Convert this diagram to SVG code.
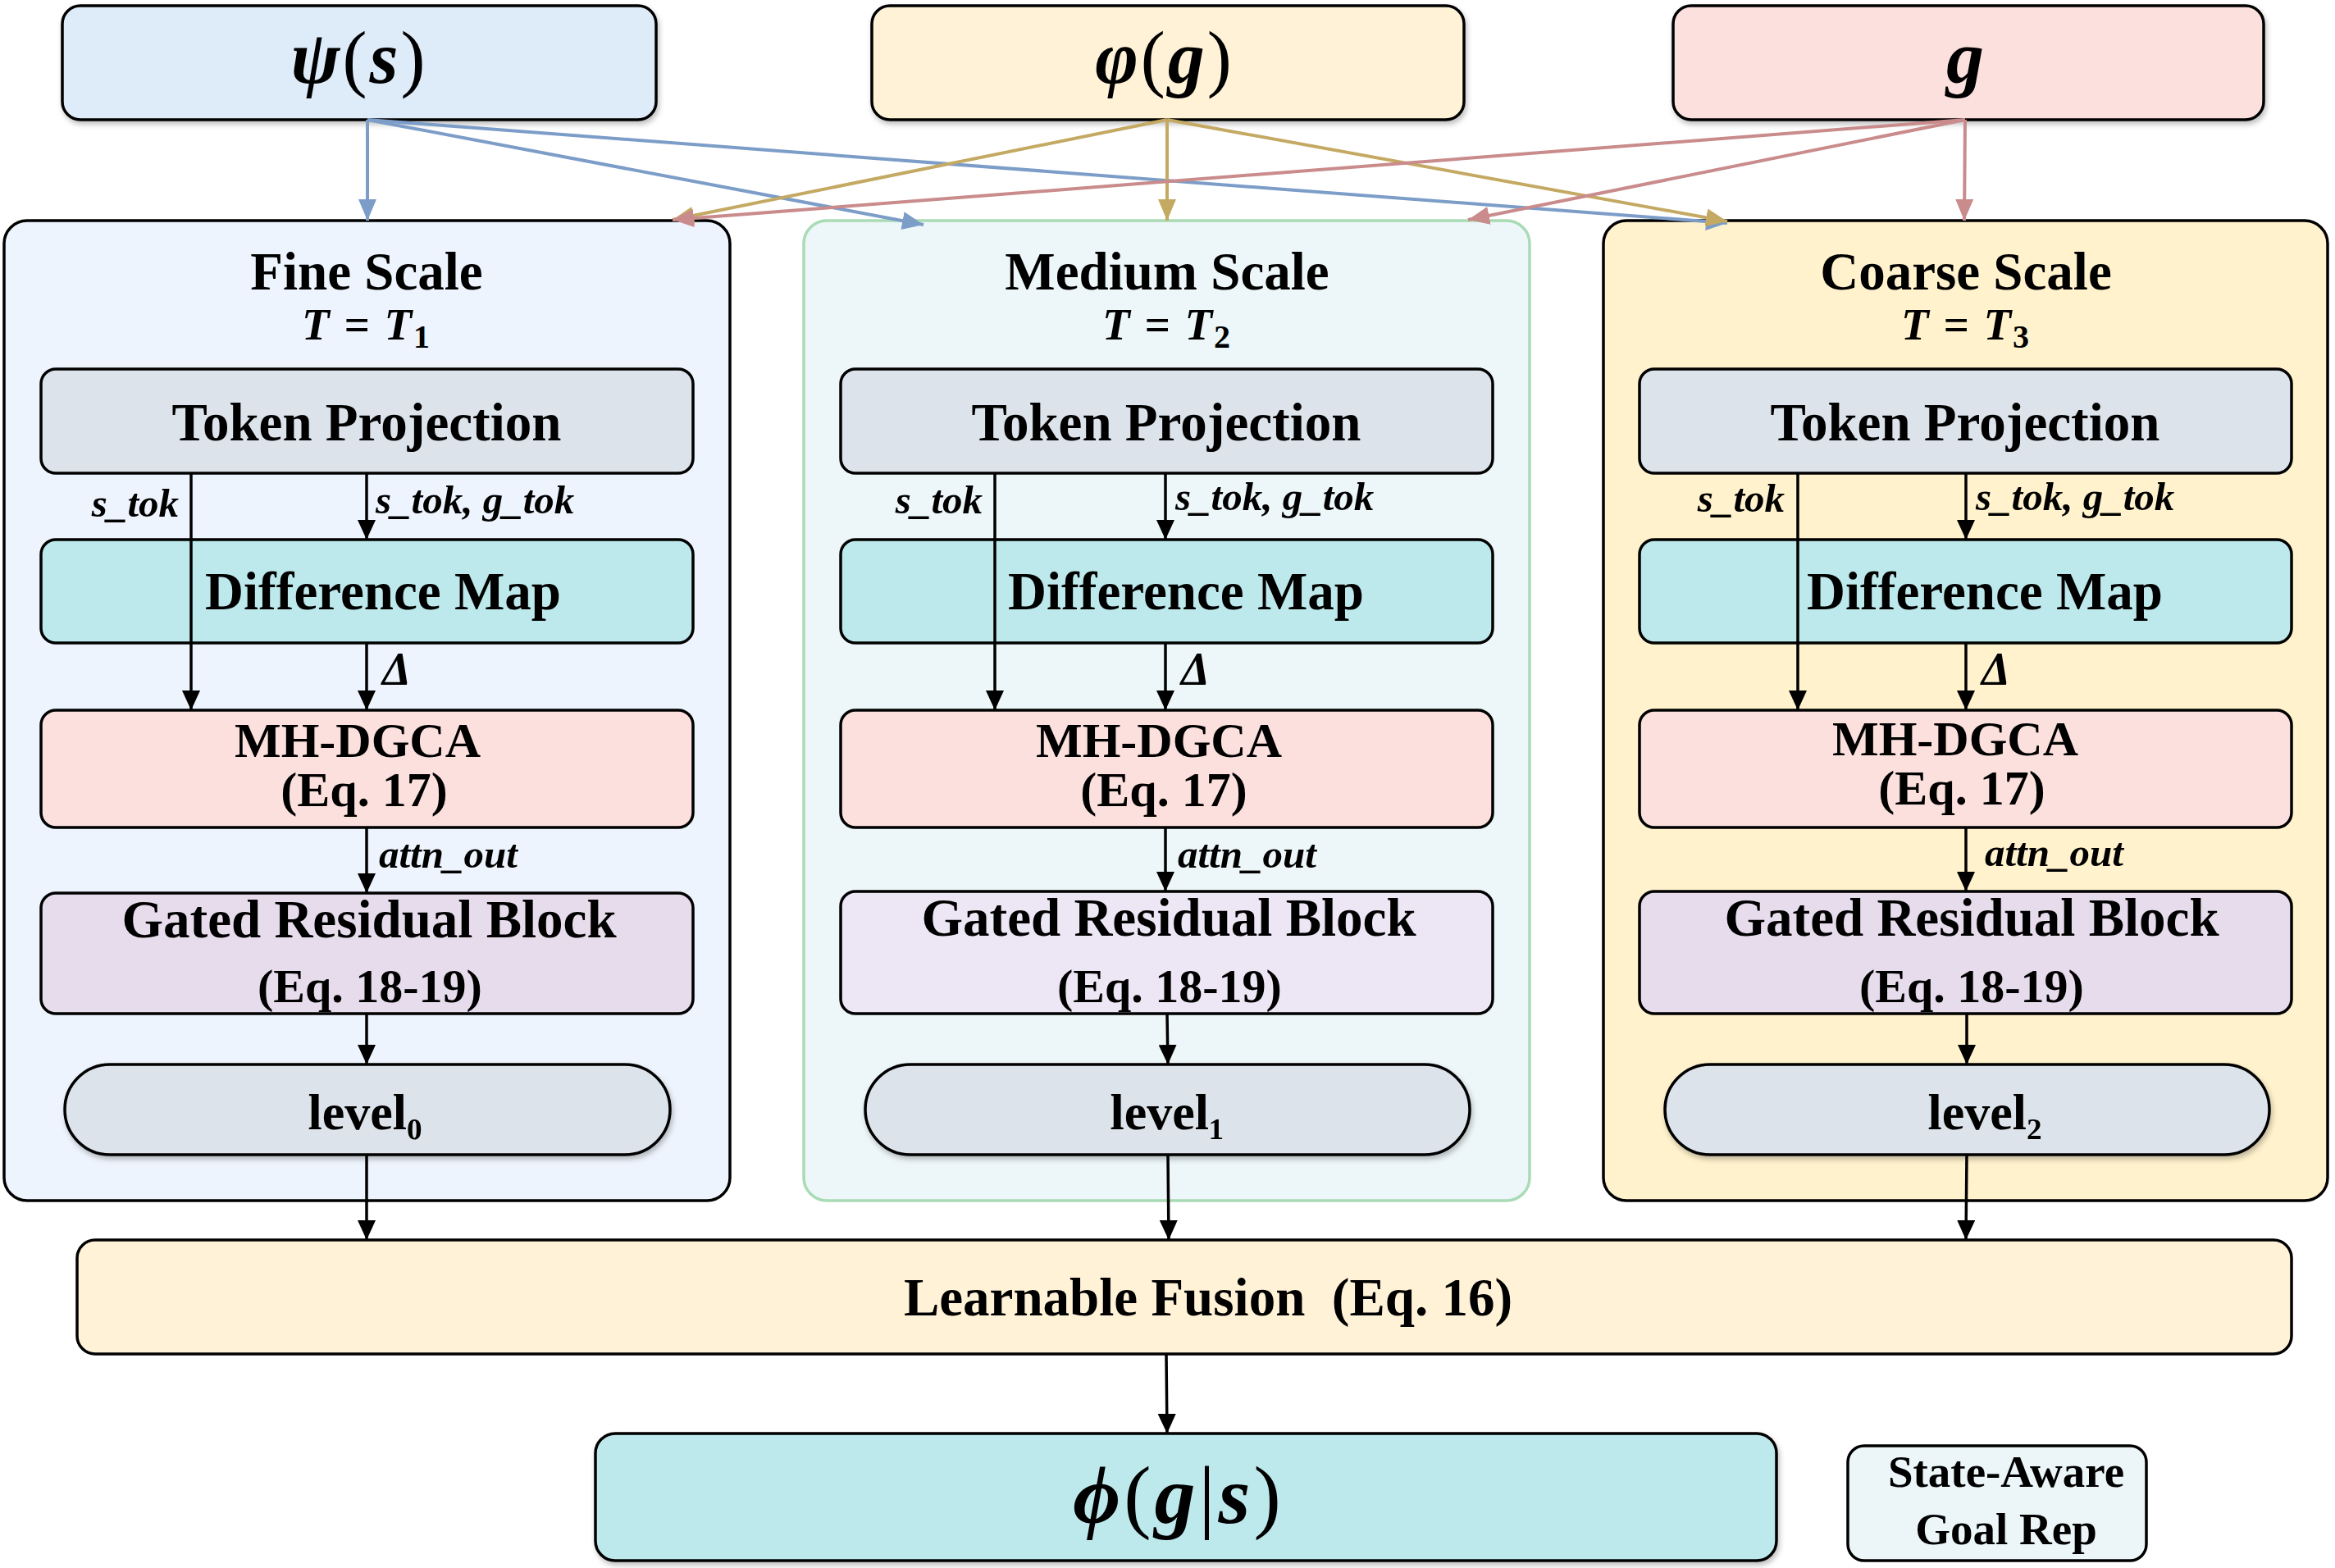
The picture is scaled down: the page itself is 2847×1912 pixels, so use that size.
<svg xmlns="http://www.w3.org/2000/svg" width="2847" height="1912" viewBox="0 0 2847 1912">
<style>
.t{font-family:"Liberation Serif","Times New Roman",serif;font-weight:bold;fill:#000;text-anchor:middle}
.i{font-style:italic}
.s{font-family:"Liberation Serif","Times New Roman",serif;font-weight:bold;font-style:italic;fill:#000}
.box{stroke:#000;stroke-width:3.5}
.blk{stroke:#000;stroke-width:3.5;fill:none;marker-end:url(#ak)}
.bl{stroke:#7c9dc8;stroke-width:4;fill:none;marker-end:url(#ab)}
.go{stroke:#c4a963;stroke-width:4;fill:none;marker-end:url(#ag)}
.pk{stroke:#c98b8b;stroke-width:4;fill:none;marker-end:url(#ap)}
.tp{fill:#dce3ea}.dm{fill:#bde9ec}.mh{fill:#fbe0dd}.gr{fill:#e7dcec}.lv{fill:#dce3ea}
</style>
<defs>
<filter id="sh" x="-5%" y="-5%" width="110%" height="130%"><feDropShadow dx="2" dy="4" stdDeviation="3" flood-color="#000" flood-opacity="0.25"/></filter>
<marker id="ak" markerUnits="userSpaceOnUse" markerWidth="24" markerHeight="22" refX="24" refY="11" orient="auto"><path d="M0,0 L24,11 L0,22 z" fill="#000"/></marker>
<marker id="ab" markerUnits="userSpaceOnUse" markerWidth="26" markerHeight="22" refX="26" refY="11" orient="auto"><path d="M0,0 L26,11 L0,22 z" fill="#7c9dc8"/></marker>
<marker id="ag" markerUnits="userSpaceOnUse" markerWidth="26" markerHeight="22" refX="26" refY="11" orient="auto"><path d="M0,0 L26,11 L0,22 z" fill="#c4a963"/></marker>
<marker id="ap" markerUnits="userSpaceOnUse" markerWidth="26" markerHeight="22" refX="26" refY="11" orient="auto"><path d="M0,0 L26,11 L0,22 z" fill="#c98b8b"/></marker>
</defs>
<rect width="2847" height="1912" fill="#fff"/>

<!-- top inputs -->
<g id="psi_s">
<rect class="box" x="76" y="7" width="724" height="139" rx="22" fill="#deebf9" filter="url(#sh)"/>
<text class="t" x="438" y="101" font-size="90" letter-spacing="3"><tspan font-style="italic">ψ</tspan><tspan font-weight="normal">(</tspan><tspan font-style="italic">s</tspan><tspan font-weight="normal">)</tspan></text>
</g>
<g id="phi_g">
<rect class="box" x="1063" y="7" width="722" height="139" rx="22" fill="#fff2d7" filter="url(#sh)"/>
<text class="t" x="1420" y="101" font-size="90" letter-spacing="3"><tspan font-style="italic">φ</tspan><tspan font-weight="normal">(</tspan><tspan font-style="italic">g</tspan><tspan font-weight="normal">)</tspan></text>
</g>
<g id="g_in">
<rect class="box" x="2040" y="7" width="720" height="139" rx="22" fill="#fbe0dd" filter="url(#sh)"/>
<text class="t i" x="2396" y="101" font-size="92">g</text>
</g>

<!-- scale containers -->
<g id="fine_scale">
<rect x="5" y="269" width="885" height="1195" rx="28" fill="#eef4fd" stroke="#000" stroke-width="3.5"/>
<text class="t" x="447" y="353" font-size="65">Fine Scale</text>
<text class="t i" x="447" y="414" font-size="55" letter-spacing="2">T = T<tspan font-style="normal" font-size="40" dy="10">1</tspan></text>
</g>
<g id="medium_scale">
<rect x="980" y="269" width="885" height="1195" rx="28" fill="#edf6f8" stroke="#a9dbb5" stroke-width="3.5"/>
<text class="t" x="1423" y="353" font-size="65">Medium Scale</text>
<text class="t i" x="1423" y="414" font-size="55" letter-spacing="2">T = T<tspan font-style="normal" font-size="40" dy="10">2</tspan></text>
</g>
<g id="coarse_scale">
<rect x="1955" y="269" width="883" height="1195" rx="28" fill="#fff2cc" stroke="#000" stroke-width="3.5"/>
<text class="t" x="2397" y="353" font-size="65">Coarse Scale</text>
<text class="t i" x="2397" y="414" font-size="55" letter-spacing="2">T = T<tspan font-style="normal" font-size="40" dy="10">3</tspan></text>
</g>

<!-- fine inner -->
<g id="fine_token_projection"><rect class="box tp" x="50" y="450" width="795" height="127" rx="18"/><text class="t" x="447" y="537" font-size="65">Token Projection</text></g>
<g id="fine_difference_map"><rect class="box dm" x="50" y="658" width="795" height="126" rx="18"/><text class="t" x="467" y="743" font-size="65">Difference Map</text></g>
<g id="fine_mhdgca"><rect class="box mh" x="50" y="866" width="795" height="143" rx="18"/><text class="t" x="436" y="923" font-size="60">MH-DGCA</text><text class="t" x="444" y="983" font-size="60">(Eq. 17)</text></g>
<g id="fine_gated"><rect class="box gr" x="50" y="1089" width="795" height="147" rx="18"/><text class="t" x="450" y="1143" font-size="65">Gated Residual Block</text><text class="t" x="451" y="1222" font-size="58">(Eq. 18-19)</text></g>
<g id="fine_level"><rect class="box lv" x="79" y="1298" width="738" height="110" rx="55" filter="url(#sh)"/><text class="t" x="445" y="1377" font-size="62">level₀</text></g>

<!-- medium inner -->
<g id="medium_token_projection"><rect class="box tp" x="1025" y="450" width="795" height="127" rx="18"/><text class="t" x="1422" y="537" font-size="65">Token Projection</text></g>
<g id="medium_difference_map"><rect class="box dm" x="1025" y="658" width="795" height="126" rx="18"/><text class="t" x="1446" y="743" font-size="65">Difference Map</text></g>
<g id="medium_mhdgca"><rect class="box mh" x="1025" y="866" width="795" height="143" rx="18"/><text class="t" x="1413" y="923" font-size="60">MH-DGCA</text><text class="t" x="1419" y="983" font-size="60">(Eq. 17)</text></g>
<g id="medium_gated"><rect class="box" fill="#ede6f5" x="1025" y="1087" width="795" height="149" rx="18"/><text class="t" x="1425" y="1141" font-size="65">Gated Residual Block</text><text class="t" x="1426" y="1222" font-size="58">(Eq. 18-19)</text></g>
<g id="medium_level"><rect class="box lv" x="1055" y="1298" width="737" height="110" rx="55" filter="url(#sh)"/><text class="t" x="1423" y="1377" font-size="62">level₁</text></g>

<!-- coarse inner -->
<g id="coarse_token_projection"><rect class="box tp" x="1999" y="450" width="795" height="127" rx="18"/><text class="t" x="2396" y="537" font-size="65">Token Projection</text></g>
<g id="coarse_difference_map"><rect class="box dm" x="1999" y="658" width="795" height="126" rx="18"/><text class="t" x="2420" y="743" font-size="65">Difference Map</text></g>
<g id="coarse_mhdgca"><rect class="box mh" x="1999" y="866" width="795" height="143" rx="18"/><text class="t" x="2384" y="921" font-size="60">MH-DGCA</text><text class="t" x="2392" y="981" font-size="60">(Eq. 17)</text></g>
<g id="coarse_gated"><rect class="box gr" x="1999" y="1087" width="795" height="149" rx="18"/><text class="t" x="2404" y="1141" font-size="65">Gated Residual Block</text><text class="t" x="2404" y="1222" font-size="58">(Eq. 18-19)</text></g>
<g id="coarse_level"><rect class="box lv" x="2030" y="1298" width="737" height="110" rx="55" filter="url(#sh)"/><text class="t" x="2420" y="1377" font-size="62">level₂</text></g>

<!-- fusion and output -->
<g id="fusion"><rect class="box" x="94" y="1512" width="2700" height="139" rx="22" fill="#fff2d7"/><text class="t" x="1473" y="1604" font-size="65" xml:space="preserve">Learnable Fusion  (Eq. 16)</text></g>
<g id="phi_gs"><rect class="box" x="726" y="1748" width="1440" height="155" rx="24" fill="#bde9ec" filter="url(#sh)"/><text class="t" x="1437" y="1857" font-size="100" letter-spacing="4"><tspan font-style="italic">ϕ</tspan><tspan font-weight="normal">(</tspan><tspan font-style="italic">g</tspan><tspan font-weight="normal">|</tspan><tspan font-style="italic">s</tspan><tspan font-weight="normal">)</tspan></text></g>
<g id="legend"><rect class="box" x="2253" y="1763" width="364" height="140" rx="20" fill="#ecf6f8"/><text class="t" x="2446" y="1813" font-size="55">State-Aware</text><text class="t" x="2446" y="1883" font-size="55">Goal Rep</text></g>

<!-- connectors -->
<g id="connectors">
<path class="bl" d="M448,146 L448,269"/>
<path class="bl" d="M448,146 L1126,274"/>
<path class="bl" d="M448,146 L2106,272"/>
<path class="go" d="M1423,146 L820,268"/>
<path class="go" d="M1423,146 L1423,269"/>
<path class="go" d="M1423,146 L2106,270"/>
<path class="pk" d="M2396,146 L820,268"/>
<path class="pk" d="M2396,146 L1790,268"/>
<path class="pk" d="M2396,146 L2395,269"/>

<path class="blk" d="M233,577 L233,866"/>
<path class="blk" d="M447,577 L447,658"/>
<path class="blk" d="M447,784 L447,866"/>
<path class="blk" d="M447,1009 L447,1089"/>
<path class="blk" d="M447,1236 L447,1298"/>
<path class="blk" d="M447,1408 L447,1512"/>

<path class="blk" d="M1213,577 L1213,866"/>
<path class="blk" d="M1421,577 L1421,658"/>
<path class="blk" d="M1421,784 L1421,866"/>
<path class="blk" d="M1421,1009 L1421,1087"/>
<path class="blk" d="M1423,1236 L1424,1298"/>
<path class="blk" d="M1424,1408 L1425,1512"/>

<path class="blk" d="M2192,577 L2192,866"/>
<path class="blk" d="M2397,577 L2397,658"/>
<path class="blk" d="M2397,784 L2397,866"/>
<path class="blk" d="M2397,1009 L2397,1087"/>
<path class="blk" d="M2398,1236 L2398,1298"/>
<path class="blk" d="M2398,1408 L2397,1512"/>

<path class="blk" d="M1422,1651 L1423,1748"/>

<text class="s" x="218" y="630" font-size="49" text-anchor="end">s_tok</text>
<text class="s" x="458" y="626" font-size="49">s_tok, g_tok</text>
<text class="s" x="466" y="835" font-size="56">Δ</text>
<text class="s" x="462" y="1058" font-size="49">attn_out</text>

<text class="s" x="1198" y="626" font-size="49" text-anchor="end">s_tok</text>
<text class="s" x="1433" y="622" font-size="49">s_tok, g_tok</text>
<text class="s" x="1440" y="835" font-size="56">Δ</text>
<text class="s" x="1436" y="1058" font-size="49">attn_out</text>

<text class="s" x="2176" y="624" font-size="49" text-anchor="end">s_tok</text>
<text class="s" x="2409" y="622" font-size="49">s_tok, g_tok</text>
<text class="s" x="2416" y="835" font-size="56">Δ</text>
<text class="s" x="2420" y="1056" font-size="49">attn_out</text>
</g>
</svg>
